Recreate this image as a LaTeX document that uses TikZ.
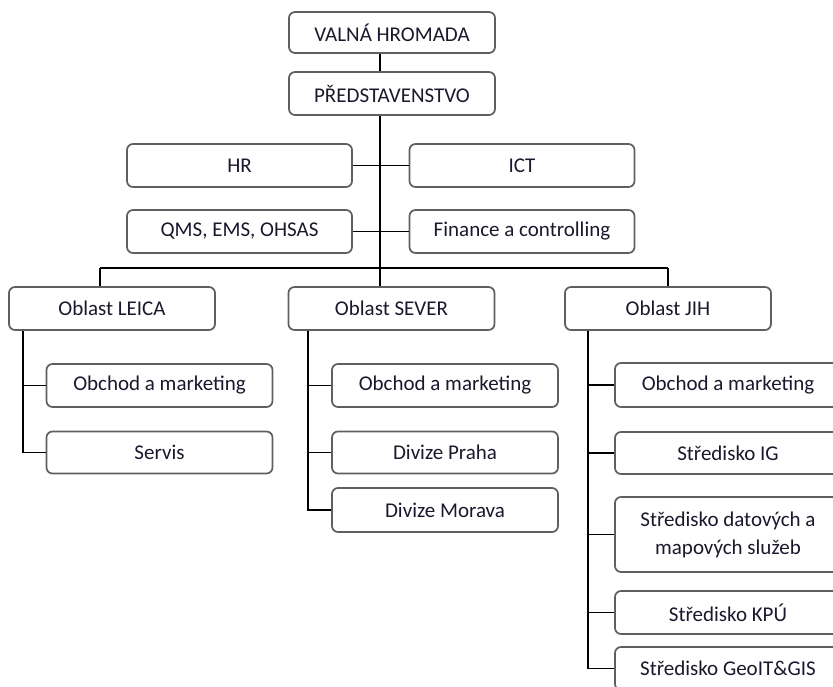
\documentclass[tikz,border=0pt]{standalone}
\usepackage{fontspec}
\setmainfont{Carlito}
\definecolor{boxgray}{RGB}{95,95,95}
\definecolor{txt}{RGB}{25,25,45}
\begin{document}
\begin{tikzpicture}[x=1pt,y=-1pt,
  box/.style={draw=boxgray, line width=1.7pt, rounded corners=6pt, fill=white,
    text=txt, font=\fontsize{21}{28}\selectfont, inner sep=0pt, align=center},
  main/.style={box, minimum width=206pt, minimum height=42pt},
  side/.style={box, minimum width=225pt, minimum height=43pt},
  child/.style={box, minimum width=226pt, minimum height=43pt},
  link/.style={draw=black, line width=1.4pt}]
\clip (0,0) rectangle (833,686);
\useasboundingbox (0,0) rectangle (833,686);

% top
\node[main, minimum height=41pt] (vh) at (392,32.5) {VALNÁ HROMADA};
\node[main, minimum height=43pt] (pr) at (392,93.5) {PŘEDSTAVENSTVO};

% staff
\node[side] (hr)  at (239.5,165.5) {HR};
\node[side] (ict) at (522,165.5) {ICT};
\node[side] (qms) at (239.5,231.5) {QMS, EMS, OHSAS};
\node[side] (fin) at (522,231.5) {Finance a controlling};

% regions
\node[main, minimum height=43pt] (leica) at (112,308.5) {Oblast LEICA};
\node[main, minimum height=43pt] (sever) at (391.5,308.5) {Oblast SEVER};
\node[main, minimum height=43pt] (jih)   at (668,308.5) {Oblast JIH};

% LEICA children
\node[child] (lo) at (159.5,385.5) {Obchod a marketing};
\node[child, minimum height=42pt] (ls) at (159.5,452.5) {Servis};

% SEVER children
\node[child] (so) at (445,385.5) {Obchod a marketing};
\node[child, minimum height=42pt] (sp) at (445,452.5) {Divize Praha};
\node[child, minimum height=44pt] (sm) at (445,510) {Divize Morava};

% JIH children
\node[child, minimum height=44pt] (jo) at (728,385) {Obchod a marketing};
\node[child, minimum height=42pt] (jig) at (728,453) {Středisko IG};
\node[child, minimum height=75pt] (jd) at (728,534.5) {Středisko datových a\\mapových služeb};
\node[child] (jk) at (728,612.5) {Středisko KPÚ};
\node[child] (jg) at (728,668.5) {Středisko GeoIT\&GIS};

% trunk and bus
\coordinate (trunk) at (380,268);
\coordinate (busl) at (100,268);
\coordinate (busr) at (668,268);
\coordinate (lx) at (23,0);
\coordinate (sx) at (308,0);
\coordinate (jx) at (588,0);

\draw[link] (vh.south -| trunk) -- (pr.north -| trunk);
\draw[link] (pr.south -| trunk) -- (trunk);
\draw[link] (hr.east) -- (ict.west);
\draw[link] (qms.east) -- (fin.west);
\draw[link] (busl) -- (busr);
\draw[link] (busl) -- (busl |- leica.north);
\draw[link] (trunk) -- (trunk |- sever.north);
\draw[link] (busr) -- (busr |- jih.north);

% LEICA tree
\draw[link] (leica.south -| lx) -- (ls.west -| lx) -- (ls.west);
\draw[link] (lo.west -| lx) -- (lo.west);

% SEVER tree
\draw[link] (sever.south -| sx) -- (sm.west -| sx) -- (sm.west);
\draw[link] (so.west -| sx) -- (so.west);
\draw[link] (sp.west -| sx) -- (sp.west);

% JIH tree
\draw[link] (jih.south -| jx) -- (jg.west -| jx) -- (jg.west);
\draw[link] (jo.west -| jx) -- (jo.west);
\draw[link] (jig.west -| jx) -- (jig.west);
\draw[link] (jd.west -| jx) -- (jd.west);
\draw[link] (jk.west -| jx) -- (jk.west);
\end{tikzpicture}
\end{document}
